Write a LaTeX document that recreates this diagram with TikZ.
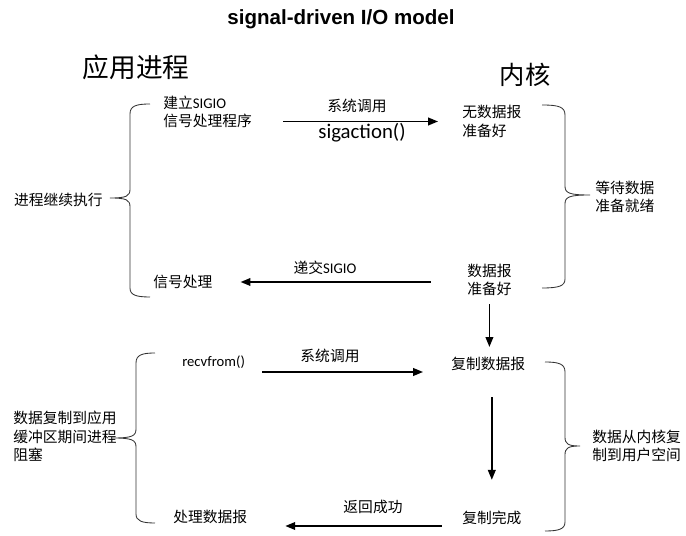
\documentclass[tikz,border=0pt]{standalone}
\usepackage{fontspec}
\setmainfont{Carlito}
\newfontfamily\cjk{Noto Sans CJK SC}
\newfontfamily\titlefont{Liberation Sans}
\usetikzlibrary{arrows.meta}

\begin{document}
\begin{tikzpicture}[
    x=0.025cm, y=-0.025cm,
    lbl/.style={inner sep=0, align=left, font=\cjk\fontsize{10.5}{13.2}\selectfont},
    code/.style={inner sep=0, font=\fontsize{10.4}{12}\selectfont},
    big/.style={inner sep=0, font=\cjk\fontsize{19}{22}\selectfont},
    arr/.style={line width=1pt, -{Triangle[length=7pt,width=5.5pt]}},
    brace/.style={line width=0.6pt, black!80}
]
\useasboundingbox (0,0) rectangle (686,536);

% Titel und Spalten
\node[inner sep=0, font=\titlefont\bfseries\fontsize{14.6}{17}\selectfont] (title) at (341,19) {signal-driven I/O model};
\node[big] (app) at (136,67) {应用进程};
\node[big, font=\cjk\fontsize{18}{22}\selectfont] (kern) at (525,75) {内核};

% Erste Phase
\node[lbl, anchor=west] (setup) at (163,112) {建立{\rmfamily SIGIO}\\信号处理程序};
\node[lbl, anchor=west] (nodata) at (462,121.5) {无数据报\\准备好};
\node[lbl, anchor=west] (sighandle) at (153,282) {信号处理};
\node[lbl, anchor=west] (ready) at (467,280) {数据报\\准备好};

\node[lbl, anchor=center] (call1) at (357,106) {系统调用};
\node[inner sep=0, font=\fontsize{14.8}{17}\selectfont] (sigact) at (362,133) {sigaction()};
\node[lbl, anchor=center] (deliver) at (325,268) {递交{\rmfamily SIGIO}};

\draw[arr, shorten <=0.775cm, shorten >=0.6cm] (setup.east |- nodata.west) -- (nodata.west);
\draw[arr, shorten <=0.9cm, shorten >=0.7cm] (ready.west |- sighandle.east) -- (sighandle.east);

% Zweite Phase
\node[code, anchor=west] (recv) at (182,362) {recvfrom()};
\node[lbl, anchor=west] (copy) at (451,364) {复制数据报};
\node[lbl, anchor=west] (done) at (462,518) {复制完成};
\node[lbl, anchor=west] (process) at (173,517) {处理数据报};

\node[lbl, anchor=center] (call2) at (330,356) {系统调用};
\node[lbl, anchor=center] (ok) at (373,507) {返回成功};

\draw[arr, shorten <=0.2cm, shorten >=0.25cm] (ready.south) -- (ready.south |- copy.north);
\draw[arr, shorten <=0.425cm, shorten >=0.7cm] ([yshift=-0.25cm]recv.east) -- ([yshift=-0.25cm]recv.east -| copy.west);
\draw[arr, shorten <=0.65cm, shorten >=0.775cm] (copy.south -| done.north) -- (done.north);
\draw[arr, shorten <=0.5cm, shorten >=0.95cm] ([yshift=-0.2cm]done.west) -- ([yshift=-0.2cm]done.west -| process.east);

% Klammern
\node[lbl, anchor=east] (goon) at (103,200) {进程继续执行};
\node[lbl, anchor=west] (wait) at (595,197) {等待数据\\准备就绪};
\node[lbl, anchor=west] (blocked) at (13,436.5) {数据复制到应用\\缓冲区期间进程\\阻塞};
\node[lbl, anchor=west] (touser) at (592,446) {数据从内核复\\制到用户空间};

\draw[brace] (150,104) .. controls (136,104) and (130,106) .. (130,114) -- (130,189)
  .. controls (130,196) and (127,198) .. (110,198)
  .. controls (127,198) and (130,200) .. (130,207) -- (130,288)
  .. controls (130,295) and (136,297) .. (150,297);
\draw[brace] (542,105) .. controls (559,105) and (565,107) .. (565,115) -- (565,186)
  .. controls (565,193) and (569,195) .. (590,195)
  .. controls (569,195) and (565,197) .. (565,204) -- (565,279)
  .. controls (565,286) and (559,288) .. (542,288);
\draw[brace] (155,353) .. controls (142,353) and (136,355) .. (136,363) -- (136,429)
  .. controls (136,436) and (132,438) .. (113,438)
  .. controls (132,438) and (136,440) .. (136,447) -- (136,514)
  .. controls (136,521) and (142,523) .. (155,523);
\draw[brace] (545,362) .. controls (559,362) and (565,364) .. (565,372) -- (565,437)
  .. controls (565,444) and (568,446) .. (580,446)
  .. controls (568,446) and (565,448) .. (565,455) -- (565,522)
  .. controls (565,529) and (559,531) .. (545,531);
\end{tikzpicture}
\end{document}
